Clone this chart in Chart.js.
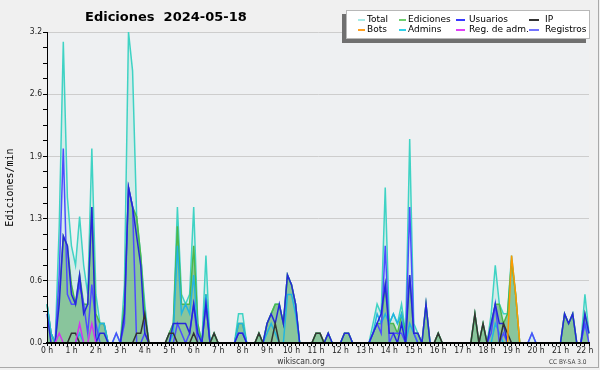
<!DOCTYPE html>
<html>
<head>
<meta charset="utf-8">
<script src="https://cdn.jsdelivr.net/npm/chart.js@4.4.1/dist/chart.umd.min.js"></script>
<style>
  html, body { margin: 0; padding: 0; background: #f0f0f0; }
  #wrap { position: relative; width: 600px; height: 370px; overflow: hidden; background: #f0f0f0; }
  #myChart { position: absolute; left: 0; top: 0; }
  #frame { position: absolute; left: 0; top: 0; width: 598px; height: 367px; border-right: 1px solid #a9a9a9; border-bottom: 1px solid #a9a9a9; pointer-events: none; }
  #title { position: absolute; left: 85px; top: 10px; font: bold 13px "DejaVu Sans", sans-serif; line-height: 13px; white-space: pre; color: #000; }
  #legend { position: absolute; left: 346px; top: 10px; width: 242px; height: 27px; background: #fff; border: 1px solid #b8b8b8; box-shadow: -4px 4px 0 #707070; }
  #legend .sw { position: absolute; height: 1.5px; }
  #legend .tx { position: absolute; font: 9px "DejaVu Sans", sans-serif; line-height: 10px; color: #000; white-space: nowrap; }
  #site { position: absolute; left: 0; width: 602px; top: 356px; text-align: center; font: 8.5px "DejaVu Sans Condensed", "DejaVu Sans", sans-serif; color: #333; }
  #cc { position: absolute; left: 549px; top: 358px; font: 6.5px "DejaVu Sans Condensed", "DejaVu Sans", sans-serif; color: #444; }
</style>
</head>
<body>
<div id="wrap">
  <canvas id="myChart" width="600" height="370"></canvas>
  <div id="title">Ediciones  2024-05-18</div>
  <div id="legend"></div>
  <div id="site">wikiscan.org</div>
  <div id="cc">CC BY-SA 3.0</div>
  <div id="frame"></div>
</div>
<script>
// one value every 10 minutes, edits per minute
const total = [
  0.4, 0.1, 0,   1.2, 3.1, 1.5,
  1.0, 0.8, 1.3, 0.8, 0.5, 2.0,
  0.5, 0.2, 0.2, 0,   0,   0.1,
  0,   0.6, 3.2, 2.8, 1.3, 0.9,
  0.4, 0,   0,   0,   0,   0,
  0.1, 0.2, 1.4, 0.5, 0.4, 0.5,
  1.4, 0.2, 0,   0.9, 0,   0.1,
  0,   0,   0,   0,   0,   0.3,
  0.3, 0,   0,   0,   0.1, 0,
  0.2, 0.3, 0.4, 0.4, 0.2, 0.7,
  0.6, 0.4, 0,   0,   0,   0,
  0.1, 0.1, 0,   0.1, 0,   0,
  0,   0.1, 0.1, 0,   0,   0,
  0,   0,   0.2, 0.4, 0.3, 1.6,
  0.2, 0.3, 0.2, 0.4, 0.1, 2.1,
  0.2, 0.1, 0,   0.4, 0,   0,
  0.1, 0,   0,   0,   0,   0,
  0,   0,   0,   0.3, 0,   0.2,
  0,   0.3, 0.8, 0.4, 0.3, 0.3,
  0.9, 0.5, 0,   0,   0,   0.1,
  0,   0,   0,   0,   0,   0,
  0,   0.3, 0.2, 0.3, 0,   0,
  0.5, 0.1
];
const ediciones = [
  0.4, 0.1, 0,   0.5, 1.1, 1.0,
  0.6, 0.4, 0.7, 0.4, 0.4, 1.4,
  0.3, 0.2, 0.2, 0,   0,   0,
  0,   0.4, 1.6, 1.4, 1.3, 0.9,
  0.3, 0,   0,   0,   0,   0,
  0.1, 0.2, 1.2, 0.4, 0.4, 0.4,
  1.0, 0.2, 0,   0.5, 0,   0.1,
  0,   0,   0,   0,   0,   0.2,
  0.2, 0,   0,   0,   0.1, 0,
  0.2, 0.3, 0.4, 0.4, 0.2, 0.7,
  0.6, 0.4, 0,   0,   0,   0,
  0.1, 0.1, 0,   0.1, 0,   0,
  0,   0.1, 0.1, 0,   0,   0,
  0,   0,   0.1, 0.2, 0.2, 0.6,
  0.2, 0.2, 0.1, 0.3, 0.1, 0.7,
  0.1, 0.1, 0,   0.4, 0,   0,
  0.1, 0,   0,   0,   0,   0,
  0,   0,   0,   0.3, 0,   0.2,
  0,   0.2, 0.4, 0.4, 0.2, 0.3,
  0.85, 0.5, 0,  0,   0,   0,
  0,   0,   0,   0,   0,   0,
  0,   0.3, 0.2, 0.3, 0,   0,
  0.3, 0.1
];
const usuarios = [
  0.3, 0,   0,   0.4, 1.1, 1.0,
  0.5, 0.4, 0.7, 0.3, 0.4, 1.4,
  0,   0.1, 0.1, 0,   0,   0,
  0,   0.3, 1.6, 1.4, 1.1, 0.8,
  0.1, 0,   0,   0,   0,   0,
  0,   0.2, 0.2, 0.2, 0.2, 0.1,
  0.4, 0.1, 0,   0.4, 0,   0,
  0,   0,   0,   0,   0,   0.1,
  0.1, 0,   0,   0,   0,   0,
  0.2, 0.3, 0.2, 0.4, 0.2, 0.7,
  0.6, 0.4, 0,   0,   0,   0,
  0,   0,   0,   0.1, 0,   0,
  0,   0.1, 0.1, 0,   0,   0,
  0,   0,   0.1, 0.2, 0.3, 0.6,
  0.1, 0.1, 0,   0.2, 0,   0.7,
  0.1, 0.1, 0,   0.4, 0,   0,
  0,   0,   0,   0,   0,   0,
  0,   0,   0,   0,   0,   0,
  0,   0.2, 0.4, 0.2, 0.2, 0,
  0,   0,   0,   0,   0,   0,
  0,   0,   0,   0,   0,   0,
  0,   0.3, 0.2, 0.3, 0,   0,
  0.3, 0.1
];
const ip = [
  0,   0,   0,   0,   0,   0,
  0.1, 0.1, 0,   0,   0,   0,
  0,   0,   0,   0,   0,   0,
  0,   0,   0,   0,   0.1, 0.1,
  0.3, 0,   0,   0,   0,   0,
  0.1, 0.1, 0,   0,   0,   0,
  0.1, 0,   0,   0,   0,   0.1,
  0,   0,   0,   0,   0,   0,
  0,   0,   0,   0,   0.1, 0,
  0,   0,   0.2, 0,   0,   0,
  0,   0,   0,   0,   0,   0,
  0.1, 0.1, 0,   0,   0,   0,
  0,   0,   0,   0,   0,   0,
  0,   0,   0,   0,   0,   0,
  0,   0,   0,   0,   0,   0,
  0,   0,   0,   0,   0,   0,
  0.1, 0,   0,   0,   0,   0,
  0,   0,   0,   0.3, 0,   0.2,
  0,   0,   0,   0,   0.2, 0.1,
  0,   0,   0,   0,   0,   0,
  0,   0,   0,   0,   0,   0,
  0,   0,   0,   0,   0,   0,
  0,   0
];
const bots = [
  0,0,0,0,0,0, 0,0,0,0,0,0, 0,0,0,0,0,0, 0,0,0,0,0,0,
  0,0,0,0,0,0, 0,0,0,0,0,0, 0,0,0,0,0,0, 0,0,0,0,0,0,
  0,0,0,0,0,0, 0,0,0,0,0,0, 0,0,0,0,0,0, 0,0,0,0,0,0,
  0,0,0,0,0,0, 0,0,0,0,0,0, 0,0,0,0,0,0, 0,0,0,0,0,0,
  0,0,0,0,0,0, 0,0,0,0,0,0,
  0,   0,   0,   0,   0,   0,
  0.9, 0.5, 0,   0,   0,   0,
  0,0,0,0,0,0, 0,0,0,0,0,0,
  0,   0
];
const admins = [
  0.4, 0.1, 0,   0,   0,   0,
  0,   0,   0.1, 0,   0,   0,
  0,   0.2, 0.2, 0,   0,   0,
  0,   0,   0,   0,   0,   0,
  0,   0,   0,   0,   0,   0,
  0,   0.1, 1.0, 0.3, 0.4, 0.3,
  0.7, 0.1, 0,   0.5, 0,   0,
  0,   0,   0,   0,   0,   0.2,
  0.2, 0,   0,   0,   0,   0,
  0.1, 0.2, 0.1, 0,   0,   0.5,
  0.5, 0.3, 0,   0,   0,   0,
  0,   0,   0,   0,   0,   0,
  0,   0,   0,   0,   0,   0,
  0,   0,   0.1, 0.3, 0.2, 0.3,
  0.2, 0.3, 0.2, 0.3, 0,   0.2,
  0.1, 0,   0,   0,   0,   0,
  0,   0,   0,   0,   0,   0,
  0,   0,   0,   0,   0,   0,
  0,   0,   0.2, 0.1, 0,   0,
  0,   0,   0,   0,   0,   0,
  0,   0,   0,   0,   0,   0,
  0,   0,   0,   0,   0,   0,
  0.2, 0.1
];
const regAdm = [
  0,   0,   0,   0.1, 0,   0,
  0,   0,   0.2, 0,   0,   0.2,
  0,0,0,0,0,0, 0,0,0,0,0,0,
  0,0,0,0,0,0, 0,0,0,0,0,0, 0,0,0,0,0,0, 0,0,0,0,0,0,
  0,0,0,0,0,0, 0,0,0,0,0,0, 0,0,0,0,0,0, 0,0,0,0,0,0,
  0,0,0,0,0,0, 0,0,0,0,0,0, 0,0,0,0,0,0, 0,0,0,0,0,0,
  0,0,0,0,0,0, 0,0,0,0,0,0, 0,0,0,0,0,0, 0,0,0,0,0,0,
  0,0,0,0,0,0, 0,0,0,0,0,0,
  0,   0
];
const registros = [
  0,   0,   0,   0.7, 2.0, 0.5,
  0.4, 0.4, 0.6, 0.4, 0.1, 0.6,
  0.2, 0,   0,   0,   0,   0.1,
  0,   0.2, 1.6, 1.4, 0,   0,
  0.1, 0,   0,   0,   0,   0,
  0,   0,   0.2, 0.1, 0,   0.1,
  0.4, 0,   0,   0.4, 0,   0,
  0,   0,   0,   0,   0,   0.1,
  0.1, 0,   0,   0,   0,   0,
  0,   0,   0,   0,   0,   0,
  0,   0,   0,   0,   0,   0,
  0,   0,   0,   0,   0,   0,
  0,   0,   0,   0,   0,   0,
  0,   0,   0.1, 0.2, 0.1, 1.0,
  0,   0.1, 0.1, 0.1, 0,   1.4,
  0.1, 0,   0,   0,   0,   0,
  0,   0,   0,   0,   0,   0,
  0,   0,   0,   0,   0,   0,
  0,   0.1, 0.4, 0,   0.1, 0,
  0,   0,   0,   0,   0,   0.1,
  0,   0,   0,   0,   0,   0,
  0,   0,   0,   0,   0,   0,
  0.2, 0
];

const seriesNames = ['Total', 'Ediciones', 'Usuarios', 'IP', 'Bots', 'Admins', 'Reg. de adm.', 'Registros'];
const seriesColors = ['#3fd3c4', '#4cb84c', '#2626dc', '#333333', '#ff9a00', '#22b4e0', '#d235f0', '#4d4dff'];
const legendColors = ['#a6ebe6', '#6fcf6f', '#3838ff', '#333333', '#ffa020', '#30d0e8', '#e040f8', '#7373ff'];
const hourLabels = ['0 h', '1 h', '2 h', '3 h', '4 h', '5 h', '6 h', '7 h', '8 h', '9 h', '10 h', '11 h',
  '12 h', '13 h', '14 h', '15 h', '16 h', '17 h', '18 h', '19 h', '20 h', '21 h', '22 h'];
const yTickLabels = ['0.0', '0.6', '1.3', '1.9', '2.6', '3.2'];
const yMax = 3.2;

const slotLabels = [];
for (let s = 0; s < total.length; s++) {
  slotLabels.push(Math.floor(s / 6) + ':' + String((s % 6) * 10).padStart(2, '0'));
}

function line(idx, data, order, extra) {
  return Object.assign({
    label: seriesNames[idx],
    data: data,
    borderColor: seriesColors[idx],
    borderWidth: 1.5,
    pointRadius: 0,
    tension: 0,
    fill: false,
    order: order
  }, extra || {});
}

const plotBg = {
  id: 'plotBg',
  beforeDraw(chart) {
    const a = chart.chartArea;
    const c = chart.ctx;
    c.save();
    c.fillStyle = '#eef0f2';
    c.fillRect(a.left, a.top, a.right - a.left, a.bottom - a.top);
    c.restore();
  }
};

const tickFont = { family: '"DejaVu Sans Condensed", "DejaVu Sans", sans-serif', size: 8.5 };

const ctx = document.getElementById('myChart').getContext('2d');
const myChart = new Chart(ctx, {
  type: 'line',
  data: {
    labels: slotLabels,
    datasets: [
      line(0, total, 8, { fill: 'origin', backgroundColor: 'rgba(110,215,200,0.2)' }),
      line(1, ediciones, 7, { fill: 'origin', backgroundColor: 'rgba(62,160,80,0.5)' }),
      line(2, usuarios, 4),
      line(3, ip, 3),
      line(4, bots, 1),
      line(5, admins, 6),
      line(6, regAdm, 2),
      line(7, registros, 5)
    ]
  },
  options: {
    responsive: false,
    animation: false,
    devicePixelRatio: 1,
    events: [],
    layout: { padding: { top: 32, right: 11, left: 0, bottom: 0 } },
    plugins: {
      legend: { display: false },
      tooltip: { enabled: false }
    },
    scales: {
      x: {
        type: 'category',
        offset: false,
        grid: { z: 1, drawOnChartArea: false, drawTicks: true, tickLength: 3, tickColor: '#000', tickWidth: 1 },
        border: { z: 2, display: true, color: '#000', width: 2 },
        ticks: {
          z: 1, autoSkip: false, maxRotation: 0, minRotation: 0, padding: 0,
          color: '#222', font: tickFont,
          callback: (value, index) => index % 6 === 0 ? hourLabels[index / 6] : ''
        },
        afterFit(scale) { scale.height = 27; }
      },
      y: {
        min: 0,
        max: yMax,
        afterBuildTicks(scale) {
          const t = [];
          for (let k = 0; k <= 20; k++) t.push({ value: yMax * k / 20 });
          scale.ticks = t;
        },
        grid: {
          color: c => (c.index % 4 === 0 && c.index > 0) ? '#cdcdcd' : 'rgba(0,0,0,0)',
          tickColor: '#000', tickLength: 4, lineWidth: 1
        },
        border: { z: 2, display: true, color: '#000', width: 1 },
        ticks: {
          padding: 1, color: '#222', font: tickFont,
          callback: (value, index) => index % 4 === 0 ? yTickLabels[index / 4] : ''
        },
        title: {
          display: true, text: 'Ediciones/min', color: '#000',
          font: { family: '"DejaVu Sans Mono", monospace', size: 10 },
          padding: { top: 4, bottom: 0 }
        },
        afterFit(scale) { scale.width = 47; }
      }
    }
  },
  plugins: [plotBg]
});

// legend box, 4 columns x 2 rows
const legendLineX = [11, 52, 109, 182];
const legendLineW = [7, 7, 9, 10];
const legendTextX = [20, 61, 122, 198];
const legendRowY = [9, 19];
const legendEl = document.getElementById('legend');
seriesNames.forEach((name, i) => {
  const col = i % 4, row = Math.floor(i / 4);
  const sw = document.createElement('div');
  sw.className = 'sw';
  sw.style.left = legendLineX[col] + 'px';
  sw.style.width = legendLineW[col] + 'px';
  sw.style.top = (legendRowY[row] - 1) + 'px';
  sw.style.background = legendColors[i];
  legendEl.appendChild(sw);
  const tx = document.createElement('div');
  tx.className = 'tx';
  tx.style.left = legendTextX[col] + 'px';
  tx.style.top = (legendRowY[row] - 6) + 'px';
  tx.textContent = name;
  legendEl.appendChild(tx);
});
</script>
</body>
</html>
